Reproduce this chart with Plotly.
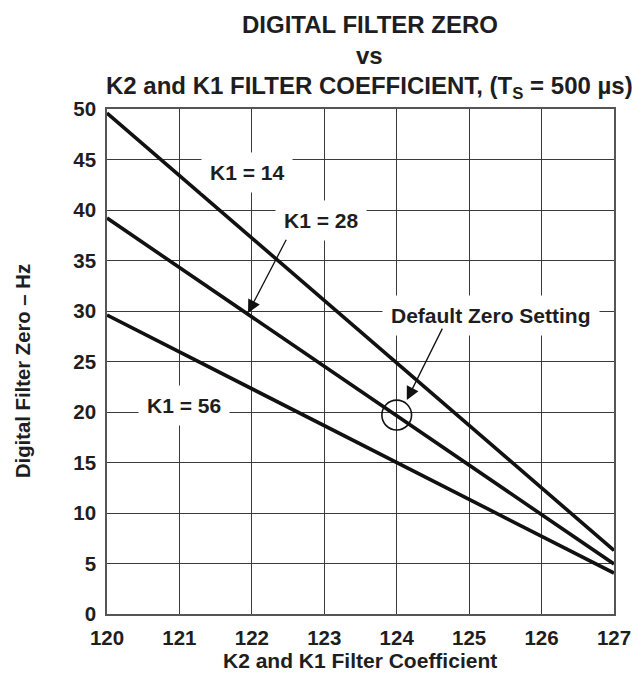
import plotly.graph_objects as go

# ---- data ----
k2_values = [120, 127]
zero_k1_14 = [49.6, 6.3]
zero_k1_28 = [39.2, 4.95]
zero_k1_56 = [29.6, 4.05]

x_ticks = [120, 121, 122, 123, 124, 125, 126, 127]
y_ticks = [0, 5, 10, 15, 20, 25, 30, 35, 40, 45, 50]

default_k2 = 124
default_zero = 19.7

FONT = "Liberation Sans, Arial, sans-serif"
INK = "#1e1e1e"

fig = go.Figure()
for ys in (zero_k1_14, zero_k1_28, zero_k1_56):
    fig.add_trace(go.Scatter(x=k2_values, y=ys, mode="lines",
                             line=dict(color="#111", width=3.6),
                             showlegend=False, hoverinfo="skip"))

# default zero setting circle
rx, ry = 0.205, 1.48
fig.add_shape(type="circle", xref="x", yref="y",
              x0=default_k2 - rx, x1=default_k2 + rx,
              y0=default_zero - ry, y1=default_zero + ry,
              line=dict(color="#111", width=1.6))

lab_font = dict(family=FONT, size=21, color=INK, weight="bold")
labels = [
    ("K1 = 14", 121.93, 43.7),
    ("K1 = 28", 122.96, 39.0),
    ("Default Zero Setting", 125.30, 29.6),
    ("K1 = 56", 121.06, 20.6),
]
annotations = []
for txt, x, y in labels:
    annotations.append(dict(text=txt, x=x, y=y, xref="x", yref="y",
                            showarrow=False, font=lab_font,
                            bgcolor="white", borderpad=8))

# arrows (tail -> head) in data coordinates
arrows = [
    ((122.485, 37.2), (121.947, 29.8)),
    ((124.64, 28.4), (124.14, 21.2)),
]
for (tx, ty), (hx, hy) in arrows:
    annotations.append(dict(text="", x=hx, y=hy, ax=tx, ay=ty,
                            xref="x", yref="y", axref="x", ayref="y",
                            showarrow=True, arrowhead=2, arrowsize=2.0,
                            arrowwidth=1.3, arrowcolor="#111"))

# titles (paper x chosen so the lines centre at ~370 px)
tfont = dict(family=FONT, size=24, color=INK, weight="bold")
for txt, yp in [("DIGITAL FILTER ZERO", 1.1673),
                ("vs", 1.105),
                ("K2 and K1 FILTER COEFFICIENT, (T<sub>S</sub> = 500 \u00b5s)", 1.0416)]:
    annotations.append(dict(text=txt, x=0.5187, y=yp, xref="paper", yref="paper",
                            showarrow=False, font=tfont,
                            xanchor="center", yanchor="middle"))

annotations.append(dict(text="K2 and K1 Filter Coefficient", x=0.499, y=-0.093,
                        xref="paper", yref="paper", showarrow=False,
                        font=dict(family=FONT, size=21, color=INK, weight="bold"),
                        xanchor="center", yanchor="middle"))
annotations.append(dict(text="Digital Filter Zero \u2013 Hz", x=-0.1657, y=0.481,
                        xref="paper", yref="paper", showarrow=False,
                        font=dict(family=FONT, size=20.3, color=INK, weight="bold"),
                        textangle=-90, xanchor="center", yanchor="middle"))

tick_font = dict(family=FONT, size=20.5, color=INK, weight="bold")
fig.update_layout(
    width=638, height=675, autosize=False,
    margin=dict(l=107, r=24, t=109, b=61, autoexpand=False),
    paper_bgcolor="white", plot_bgcolor="white",
    annotations=annotations,
    xaxis=dict(range=[120, 127], tickvals=x_ticks, ticktext=[str(v) for v in x_ticks],
               automargin=False,
               showgrid=True, gridcolor="#3a3a3a", gridwidth=1.2,
               showline=True, linecolor="#555", linewidth=1.6, mirror=True,
               zeroline=False, ticks="", tickfont=tick_font, ticklabelstandoff=5),
    yaxis=dict(range=[0, 50], tickvals=y_ticks, ticktext=[str(v) for v in y_ticks],
               automargin=False,
               showgrid=True, gridcolor="#3a3a3a", gridwidth=1.2,
               showline=True, linecolor="#555", linewidth=1.6, mirror=True,
               zeroline=False, ticks="", tickfont=tick_font, ticklabelstandoff=5),
)

fig.write_html(
    "out.html",
    config={"displayModeBar": False},
    post_script=("document.body.style.margin='0';"
                 "document.body.style.overflow='hidden';"
                 "document.documentElement.style.overflow='hidden';"),
)
